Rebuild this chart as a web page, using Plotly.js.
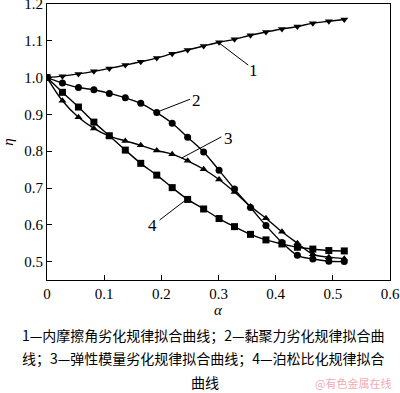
<!DOCTYPE html>
<html>
<head>
<meta charset="utf-8">
<script src="https://cdn.plot.ly/plotly-3.0.1.min.js"></script>
<style>html,body{margin:0;padding:0;background:#fff;}#chart{width:400px;height:393px;}</style>
</head>
<body>
<div id="chart"></div>
<script>
// alpha values (damage parameter)
var alpha = [0, 0.027, 0.055, 0.082, 0.109, 0.137, 0.164, 0.192, 0.219, 0.246, 0.274, 0.301, 0.328, 0.356, 0.383, 0.411, 0.438, 0.465, 0.493, 0.520];
// 1 - internal friction angle
var eta1 = [1.000, 1.004, 1.010, 1.017, 1.025, 1.034, 1.043, 1.053, 1.065, 1.075, 1.086, 1.096, 1.104, 1.115, 1.124, 1.132, 1.139, 1.148, 1.153, 1.158];
// 2 - cohesion
var eta2 = [1.000, 0.985, 0.973, 0.967, 0.957, 0.945, 0.930, 0.905, 0.876, 0.838, 0.798, 0.748, 0.697, 0.647, 0.598, 0.552, 0.517, 0.507, 0.501, 0.500];
// 3 - elastic modulus
var eta3 = [1.000, 0.937, 0.892, 0.862, 0.841, 0.828, 0.816, 0.802, 0.792, 0.774, 0.751, 0.723, 0.689, 0.650, 0.618, 0.581, 0.550, 0.520, 0.512, 0.508];
// 4 - Poisson ratio
var eta4 = [1.000, 0.960, 0.920, 0.879, 0.842, 0.803, 0.767, 0.735, 0.701, 0.669, 0.643, 0.617, 0.595, 0.574, 0.559, 0.548, 0.539, 0.534, 0.530, 0.529];

var xTickVals = [0, 0.1, 0.2, 0.3, 0.4, 0.5, 0.6];
var xTickText = ["0", "0.1", "0.2", "0.3", "0.4", "0.5", "0.6"];
var yTickVals = [0.5, 0.6, 0.7, 0.8, 0.9, 1.0, 1.1, 1.2];
var yTickText = ["0.5", "0.6", "0.7", "0.8", "0.9", "1.0", "1.1", "1.2"];

var curveLabels = ["1", "2", "3", "4"];
var captionLines = [
  "1—内摩擦角劣化规律拟合曲线；2—黏聚力劣化规律拟合曲",
  "线；3—弹性模量劣化规律拟合曲线；4—泊松比化规律拟合",
  "曲线"
];
var watermark = "@有色金属在线";

var series = [eta1, eta2, eta3, eta4];
var symbols = ["triangle-down", "circle", "triangle-up", "square"];
var traces = series.map(function (s, i) {
  return {
    x: alpha, y: s, type: "scatter", mode: "lines+markers",
    line: {color: "#000", width: 1.4, shape: "spline", smoothing: 1},
    marker: {symbol: symbols[i], size: 7, color: "#000"},
    showlegend: false, hoverinfo: "skip"
  };
});

var serif = "Liberation Serif";
var cjk = "Noto Sans CJK SC";

// leader lines [x0,y0,x1,y1] and label positions
var leaders = [
  [0.302, 1.093, 0.352, 1.034],
  [0.197, 0.909, 0.250, 0.941],
  [0.235, 0.781, 0.305, 0.839],
  [0.197, 0.613, 0.244, 0.669]
];
var labelPos = [[0.362, 1.018], [0.261, 0.939], [0.317, 0.835], [0.185, 0.599]];

var shapes = leaders.map(function (l) {
  return {type: "line", xref: "x", yref: "y", x0: l[0], y0: l[1], x1: l[2], y1: l[3],
          line: {color: "#000", width: 1}};
});

var annotations = curveLabels.map(function (t, i) {
  return {text: t, x: labelPos[i][0], y: labelPos[i][1], xref: "x", yref: "y",
          xanchor: "center", yanchor: "middle",
          showarrow: false, font: {family: serif, size: 17, color: "#000"}};
});

var L = 47, R = 10, T = 4, B = 113, W = 400, H = 393;
var pw = W - L - R, ph = H - T - B;
function px(xp) { return (xp - L) / pw; }
function py(yp) { return (H - B - yp) / ph; }

annotations.push({text: "<i>α</i>", x: px(218), y: py(310), xref: "paper", yref: "paper",
  xanchor: "center", yanchor: "middle", showarrow: false,
  font: {family: serif, size: 15, color: "#000"}});

var capY = [335, 358, 382];
var capX = [203, 203, 205];
captionLines.forEach(function (t, i) {
  annotations.push({text: t, x: px(capX[i]), y: py(capY[i]), xref: "paper", yref: "paper",
    xanchor: "center", yanchor: "middle", showarrow: false,
    font: {family: cjk, size: 14, color: "#000"}});
});
annotations.push({text: watermark, x: px(393), y: py(383), xref: "paper", yref: "paper",
  xanchor: "right", yanchor: "middle", showarrow: false,
  font: {family: cjk, size: 11, color: "#f2aab4"}});

var layout = {
  width: W, height: H,
  margin: {l: L, r: R, t: T, b: B},
  paper_bgcolor: "#fff", plot_bgcolor: "#fff",
  font: {family: serif, size: 15, color: "#000"},
  xaxis: {
    range: [0, 0.6], tickvals: xTickVals, ticktext: xTickText,
    ticks: "inside", ticklen: 5, tickcolor: "#000", showgrid: false, zeroline: false,
    showline: true, linecolor: "#000", linewidth: 1, mirror: true,
    ticklabeloverflow: "allow",
    tickfont: {family: serif, size: 15, color: "#000"}
  },
  yaxis: {
    range: [0.45, 1.2], tickvals: yTickVals, ticktext: yTickText,
    ticks: "inside", ticklen: 5, tickcolor: "#000", showgrid: false, zeroline: false,
    showline: true, linecolor: "#000", linewidth: 1, mirror: true,
    ticklabeloverflow: "allow",
    tickfont: {family: serif, size: 15, color: "#000"},
    title: {text: "<i>η</i>", font: {family: serif, size: 15, color: "#000"}, standoff: 9}
  },
  shapes: shapes,
  annotations: annotations
};

Plotly.newPlot("chart", traces, layout, {staticPlot: true, displayModeBar: false});
</script>
</body>
</html>
